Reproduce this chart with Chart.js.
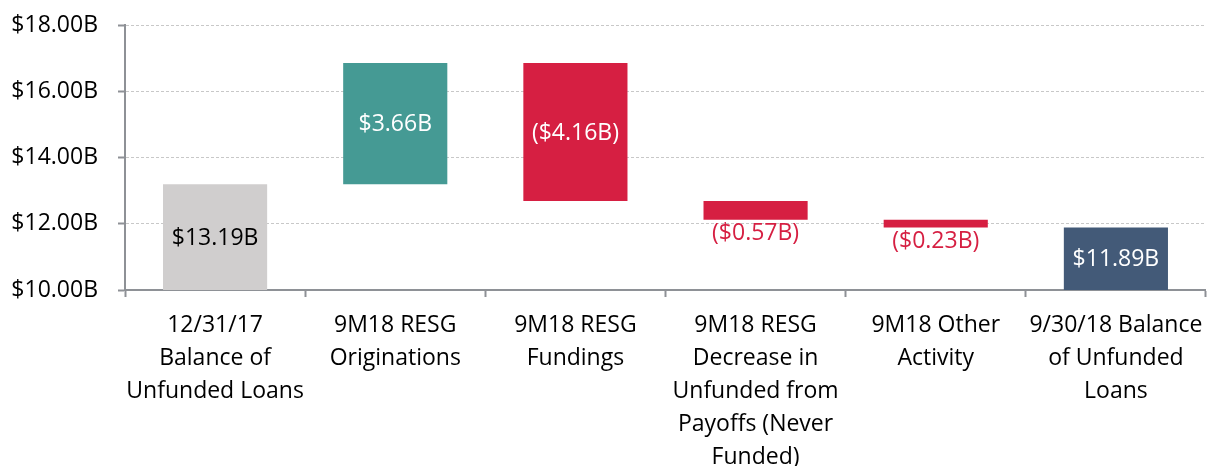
<!DOCTYPE html>
<html>
<head>
<meta charset="utf-8">
<script src="https://cdn.jsdelivr.net/npm/chart.js@4/dist/chart.umd.min.js"></script>
<style>
  html, body { margin: 0; padding: 0; background: #ffffff; }
  #wrap { width: 1215px; height: 466px; position: relative; }
</style>
</head>
<body>
<div id="wrap"><canvas id="c"></canvas></div>
<script>
const categories = [
  ["12/31/17", "Balance of", "Unfunded Loans"],
  ["9M18 RESG", "Originations"],
  ["9M18 RESG", "Fundings"],
  ["9M18 RESG", "Decrease in", "Unfunded from", "Payoffs (Never", "Funded)"],
  ["9M18 Other", "Activity"],
  ["9/30/18 Balance", "of Unfunded", "Loans"]
];
const changes = [13.19, 3.66, -4.16, -0.57, -0.23, 11.89];
const isTotal = [true, false, false, false, false, true];
const valueLabels = ["$13.19B", "$3.66B", "($4.16B)", "($0.57B)", "($0.23B)", "$11.89B"];
const yTicks = [10, 12, 14, 16, 18];

const barColors = ["#D0CECE", "#459A94", "#D61F42", "#D61F42", "#D61F42", "#435A78"];
const labelColors = ["#000000", "#ffffff", "#ffffff", "#D61F42", "#D61F42", "#ffffff"];
const labelInside = [true, true, true, false, false, true];

// Build floating ranges
const ranges = [];
let running = 0;
changes.forEach((v, i) => {
  if (isTotal[i]) { ranges.push([0, v]); running = v; }
  else { const s = running; running = +(running + v).toFixed(2); ranges.push([s, running]); }
});

const FONT = "'Open Sans', Lato, sans-serif";

const labelPlugin = {
  id: 'wfLabels',
  afterDatasetsDraw(chart) {
    const ctx = chart.ctx;
    const meta = chart.getDatasetMeta(0);
    const area = chart.chartArea;
    ctx.save();
    ctx.font = "23px " + FONT;
    ctx.textAlign = 'center';
    ctx.textBaseline = 'middle';
    meta.data.forEach((bar, i) => {
      const p = bar.getProps(['x', 'y', 'base'], true);
      const top = Math.min(p.y, p.base);
      const bottom = Math.min(Math.max(p.y, p.base), area.bottom);
      let y;
      if (labelInside[i]) y = (top + bottom) / 2 + 1;
      else y = bottom + 14;
      ctx.fillStyle = labelColors[i];
      ctx.fillText(valueLabels[i], p.x, y);
    });
    ctx.restore();
  }
};

new Chart(document.getElementById('c'), {
  type: 'bar',
  data: {
    labels: categories,
    datasets: [{
      data: ranges,
      backgroundColor: barColors,
      borderWidth: 0,
      barPercentage: 1,
      categoryPercentage: 0.578
    }]
  },
  options: {
    responsive: true,
    maintainAspectRatio: false,
    animation: false,
    layout: { padding: { top: 0, right: 8, left: 0, bottom: 0 } },
    plugins: { legend: { display: false }, tooltip: { enabled: false } },
    scales: {
      x: {
        offset: true,
        grid: {
          offset: true,
          drawOnChartArea: false,
          drawTicks: true,
          tickLength: 7,
          tickColor: '#8E9196',
          tickWidth: 2
        },
        border: { display: true, color: '#8E9196', width: 2 },
        ticks: {
          color: '#000000',
          font: { family: FONT, size: 23, lineHeight: 1.43 },
          padding: 12,
          maxRotation: 0,
          autoSkip: false
        },
        afterFit(scale) { scale.height = 176; }
      },
      y: {
        min: 10,
        max: 18,
        afterBuildTicks(scale) { scale.ticks = yTicks.map(v => ({ value: v })); },
        grid: {
          color: '#C8C8C8',
          lineWidth: 1,
          drawTicks: true,
          tickLength: 7,
          tickColor: '#8E9196',
          tickWidth: 2,
          tickBorderDash: []
        },
        border: { display: true, color: '#8E9196', width: 2, dash: [3, 2] },
        ticks: {
          color: '#000000',
          font: { family: FONT, size: 23, lineHeight: 1.2 },
          padding: 20,
          callback: v => '$' + Number(v).toFixed(2) + 'B'
        },
        afterFit(scale) {
          scale.width = 125;
          scale.paddingTop = 25;
          scale.paddingBottom = 0;
        }
      }
    }
  },
  plugins: [labelPlugin]
});
</script>
</body>
</html>
